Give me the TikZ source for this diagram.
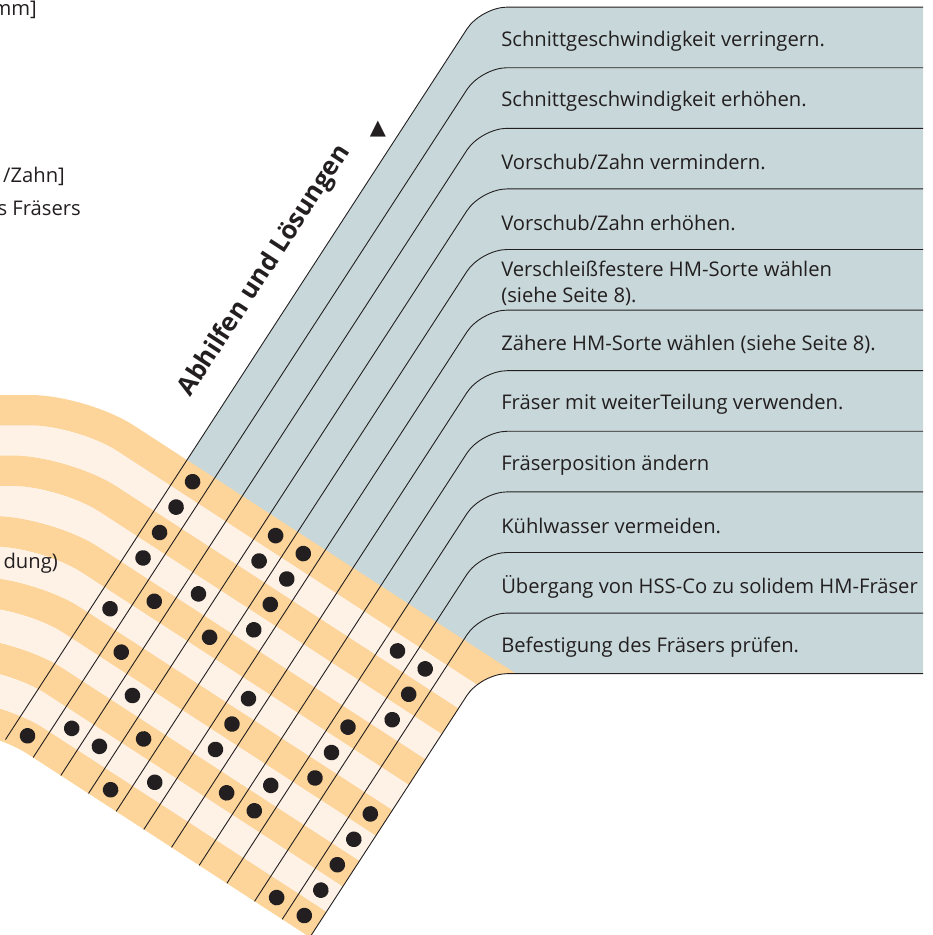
\documentclass[tikz,border=0pt]{standalone}
\usepackage{fontspec}
\setmainfont{Open Sans}
\newfontfamily\symfont{DejaVu Sans}
\usetikzlibrary{calc}
\definecolor{band}{RGB}{253, 212, 153}
\definecolor{cream}{RGB}{254, 242, 231}
\definecolor{slate}{RGB}{200, 216, 218}
\definecolor{ink}{RGB}{35, 31, 32}

\tikzset{
  rule/.style={color=ink, line width=0.9pt, rounded corners=26pt},
  stripe/.style={line width=30.3pt, rounded corners=52pt},
  hit/.style={fill=ink},
  remedy/.style={anchor=west, text=ink, align=left, inner sep=0pt,
    font=\fontsize{20.2}{26}\selectfont},
  cutoff/.style={anchor=base east, text=ink, inner sep=0pt,
    font=\fontsize{20.2}{26}\selectfont},
  heading/.style={anchor=base west, text=ink, inner sep=0pt,
    font=\fontsize{25.5}{30}\selectfont\bfseries},
}

\begin{document}
\begin{tikzpicture}[x=1pt, y=-1pt]
  \useasboundingbox (0,0) rectangle (933,935);
  \clip (0,0) rectangle (923,935);

  % frame of the matrix
  \begin{scope}[shift={(187,460)}, rotate=-33]
    \foreach \k in {0,...,11} {
      \coordinate (top\k) at ({33*\k}, {-540+50.82*\k});
      \coordinate (bot\k) at ({33*\k}, 333.3);
    }
    \foreach \i in {0,...,10} {
      \coordinate (bend\i) at ({-119.35+0.2962*30.3*(\i+0.5)}, {30.3*(\i+0.5)});
      \coordinate (end\i) at (420, {30.3*(\i+0.5)});
    }
    \coordinate (inL) at (0, 150);
    \coordinate (inR) at (363, 150);
    \coordinate (outR) at (363, 600);
    \coordinate (headpos) at (-31, -54);
  \end{scope}

  \begin{scope}
    \clip[rounded corners=26pt] (-200,-200) -- (1100,-200) -- ($(top11)+(600,0)$)
      -- (top11) -- (outR) -- (-200,1200) -- cycle;
    \fill[slate, rounded corners=26pt] (inL) -- (top0) -- ($(top0)+(600,0)$)
      -- ($(top11)+(600,0)$) -- (top11) -- (inR) -- cycle;
    \foreach \i in {1,3,...,9} {
      \draw[stripe, cream, line width=32pt] ($(bend\i)+(-300,0)$) -- (bend\i) -- (end\i);
    }
    \foreach \i in {0,2,...,10} {
      \draw[stripe, band] ($(bend\i)+(-300,0)$) -- (bend\i) -- (end\i);
    }
  \end{scope}

  \foreach \k in {0,...,11} {
    \draw[rule] ($(top\k)+(500,0)$) -- (top\k) -- (bot\k);
  }

  % dots
  \begin{scope}[shift={(187,460)}, rotate=-33]
    \foreach \c/\r in {0/0, 0/1, 0/2, 0/3, 0/5, 0/10,
                       1/4, 1/6, 1/9,
                       2/3, 2/7, 2/9,
                       3/0, 3/1, 3/4, 3/8, 3/10,
                       4/0, 4/1, 4/2, 4/3, 4/9,
                       5/5, 5/6, 5/7,
                       6/8,
                       7/7, 7/8,
                       8/1, 8/4, 8/5, 8/6,
                       9/1, 9/2, 9/3, 9/10,
                       10/6, 10/7, 10/8, 10/9, 10/10} {
      \fill[hit] ({33*\c+16.5}, {30.3*\r+15.15}) circle (7.8pt);
    }
  \end{scope}

  % labels
  \foreach \txt [count=\k from 0] in {
      Schnittgeschwindigkeit verringern.,
      Schnittgeschwindigkeit erhöhen.,
      Vorschub/Zahn vermindern.,
      Vorschub/Zahn erhöhen.,
      {Verschleißfestere HM-Sorte wählen\\(siehe Seite 8).},
      Zähere HM-Sorte wählen (siehe Seite 8).,
      Fräser mit weiterTeilung verwenden.,
      Fräserposition ändern,
      Kühlwasser vermeiden.,
      Übergang von HSS-Co zu solidem HM-Fräser,
      Befestigung des Fräsers prüfen.} {
    \node[remedy] (rem\k) at ($(top\k)+(20,34)$) {\txt};
  }

  \node[heading, rotate=57] (head) at (headpos) {Abhilfen und Lösungen};
  \node[text=ink, inner sep=0pt, font=\symfont\fontsize{21}{21}\selectfont]
    (mark) at (378,129) {▲};

  \node[cutoff] (unit) at (37,15) {mm]};
  \node[cutoff] (feed) at (65,182) {/Zahn]};
  \node[cutoff] (cutter) at (81,215) {es Fräsers};
  \node[cutoff] (cause) at (58,568) {dung)};
\end{tikzpicture}
\end{document}
